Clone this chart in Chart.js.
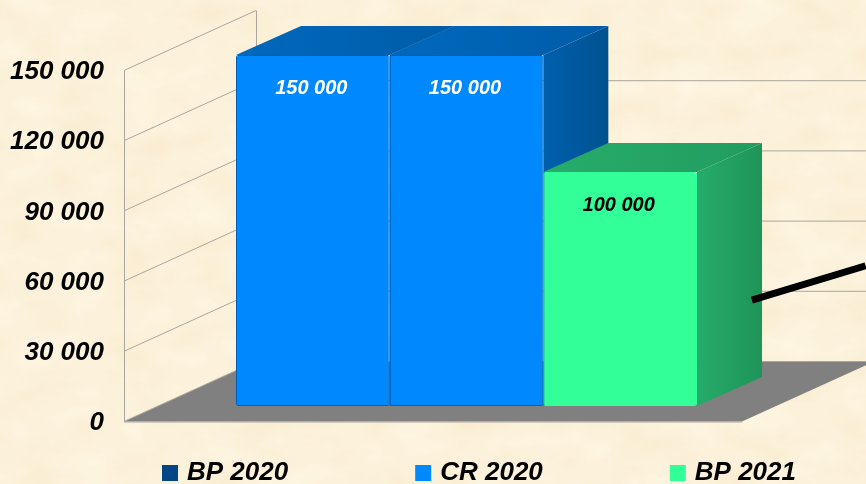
<!DOCTYPE html>
<html><head><meta charset="utf-8">
<script src="https://cdn.jsdelivr.net/npm/chart.js@4"></script>
<style>
html,body{margin:0;padding:0;width:866px;height:484px;overflow:hidden;background-color:#fcf1da}
#bg{position:absolute;left:0;top:0}
#wrap{position:absolute;left:0;top:0;width:866px;height:484px}
</style></head><body>
<svg id="bg" width="866" height="484"><filter id="p" x="0" y="0" width="100%" height="100%" color-interpolation-filters="sRGB">
<feTurbulence type="fractalNoise" baseFrequency="0.018 0.03" numOctaves="4" seed="7"/>
<feColorMatrix type="matrix" values="0 0 0 0.025 0.975  0 0 0 0.05 0.92  0 0 0 0.09 0.81  0 0 0 0 1"/>
</filter><rect width="866" height="484" filter="url(#p)"/></svg>
<div id="wrap"><canvas id="c" width="866" height="484"></canvas></div>
<script>
const categories = ['2020-2021'];
const seriesNames = ['BP 2020', 'CR 2020', 'BP 2021'];
const seriesValues = [150000, 150000, 100000];
const yTicks = [0, 30000, 60000, 90000, 120000, 150000];
const faceColors = ['#0088ff', '#0088ff', '#33ff99'];
const edgeColors = ['#005fb8', '#005fb8', '#33ff99'];
const legendColors = ['#004586', '#0088ff', '#33ff99'];
const labelColors = ['#ffffff', '#ffffff', '#000000'];
const topColors = [['#0069bd', '#005ca8'], ['#0069bd', '#005ca8'], ['#26ad6b', '#229c60']];
const sideColors = [['#0060ae', '#00528f'], ['#0060ae', '#00528f'], ['#25ac6a', '#1f9459']];
const pointerValues = [52500, 67200];
const pointerFractions = [1.016, 1.2];

const FONT = '"Liberation Sans", Arial, sans-serif';
const fmt = v => String(v).replace(/\B(?=(\d{3})+$)/g, ' ');
const wallDx = 132, wallDy = -60;      // depth of the floor
const wallShift = -1.5;                // walls sit just above the tick label centres
const barShift = [33.5, -17];          // bars stand part way into the floor
const barDepth = [65, -29];

const scene = {
  id: 'scene',
  afterLayout(chart) {
    // spread the legend items across the bottom like the reference
    const lg = chart.legend, o = lg.options;
    const labels = Object.create(o.labels);
    Object.defineProperty(labels, 'padding', {value: 131});
    const opts = Object.create(o);
    Object.defineProperty(opts, 'labels', {value: labels});
    lg.options = opts;
    lg.left = 35; lg.right = 3000; lg.top = 460 - 131; lg.bottom = 484;
  },
  beforeDatasetsDraw(chart) {
    const {ctx, scales: {x, y}} = chart;
    const L = x.left, R = x.right, B = y.getPixelForValue(0) + wallShift;
    ctx.save();
    // floor
    ctx.fillStyle = '#808080';
    ctx.beginPath();
    ctx.moveTo(L, B); ctx.lineTo(L + wallDx, B + wallDy);
    ctx.lineTo(R + wallDx, B + wallDy); ctx.lineTo(R, B); ctx.closePath(); ctx.fill();
    // walls and grid
    ctx.strokeStyle = '#aaa69c'; ctx.lineWidth = 1;
    const T = y.getPixelForValue(yTicks[yTicks.length - 1]) + wallShift;
    ctx.beginPath();
    ctx.moveTo(L + .5, B); ctx.lineTo(L + .5, T);
    ctx.moveTo(L + wallDx + .5, B + wallDy); ctx.lineTo(L + wallDx + .5, T + wallDy);
    yTicks.forEach((v, i) => {
      const p = y.getPixelForValue(v) + wallShift;
      ctx.moveTo(L, p); ctx.lineTo(L + wallDx, p + wallDy);
      if (i < yTicks.length - 1) ctx.lineTo(R + wallDx + 10, p + wallDy);
    });
    ctx.moveTo(L, B + .5); ctx.lineTo(R, B + .5);
    ctx.stroke();
    // bar tops and sides
    ctx.translate(barShift[0], barShift[1]);
    seriesValues.forEach((_, i) => {
      const b = chart.getDatasetMeta(i).data[0];
      const x0 = b.x - b.width / 2, x1 = b.x + b.width / 2, t = b.y, bt = b.base;
      const [dx, dy] = barDepth;
      let g = ctx.createLinearGradient(x1, 0, x1 + dx, 0);
      g.addColorStop(0, sideColors[i][0]); g.addColorStop(1, sideColors[i][1]);
      ctx.fillStyle = g;
      ctx.beginPath();
      ctx.moveTo(x1, t); ctx.lineTo(x1 + dx, t + dy); ctx.lineTo(x1 + dx, bt + dy); ctx.lineTo(x1, bt);
      ctx.closePath(); ctx.fill();
      g = ctx.createLinearGradient(x0, 0, x1 + dx, 0);
      g.addColorStop(0, topColors[i][0]); g.addColorStop(1, topColors[i][1]);
      ctx.fillStyle = g;
      ctx.beginPath();
      ctx.moveTo(x0, t); ctx.lineTo(x0 + dx, t + dy); ctx.lineTo(x1 + dx, t + dy); ctx.lineTo(x1, t);
      ctx.closePath(); ctx.fill();
    });
    ctx.restore();
    ctx.save();
    ctx.translate(barShift[0], barShift[1]);
  },
  afterDatasetsDraw(chart) {
    const {ctx, scales: {x, y}} = chart;
    ctx.textAlign = 'center'; ctx.textBaseline = 'middle';
    ctx.font = 'italic bold 20px ' + FONT;
    seriesValues.forEach((v, i) => {
      const b = chart.getDatasetMeta(i).data[0];
      ctx.fillStyle = labelColors[i];
      ctx.fillText(fmt(v), b.x - 1.5, b.y + 33.5);
    });
    ctx.restore();
    // pointer line running off the right edge
    ctx.save();
    ctx.strokeStyle = '#000'; ctx.lineWidth = 7;
    ctx.beginPath();
    ctx.moveTo(x.getPixelForDecimal(pointerFractions[0]), y.getPixelForValue(pointerValues[0]));
    ctx.lineTo(x.getPixelForDecimal(pointerFractions[1]), y.getPixelForValue(pointerValues[1]));
    ctx.stroke();
    ctx.restore();
  }
};

new Chart(document.getElementById('c'), {
  type: 'bar',
  data: {
    labels: categories,
    datasets: seriesNames.map((name, i) => ({
      label: name,
      data: [seriesValues[i]],
      backgroundColor: faceColors[i],
      borderColor: edgeColors[i],
      borderWidth: 1,
      borderRadius: 2,
      borderSkipped: false,
      clip: false
    }))
  },
  plugins: [scene],
  options: {
    responsive: false,
    animation: false,
    events: [],
    layout: {padding: {left: 0, right: 124, top: 72, bottom: 0}},
    datasets: {bar: {categoryPercentage: 0.746, barPercentage: 1}},
    plugins: {
      title: {display: false},
      tooltip: {enabled: false},
      legend: {
        position: 'bottom',
        align: 'start',
        labels: {
          boxWidth: 8, boxHeight: 8, padding: 9, color: '#000',
          font: {family: FONT, size: 26, weight: 'bold', style: 'italic'},
          generateLabels: () => seriesNames.map((t, i) => ({
            text: t, fillStyle: legendColors[i], strokeStyle: legendColors[i],
            lineWidth: 8, fontColor: '#000', datasetIndex: i, hidden: false
          }))
        }
      }
    },
    scales: {
      x: {
        grid: {display: false}, border: {display: false},
        ticks: {display: false},
        afterFit(s) { s.height = 16; }
      },
      y: {
        min: 0, max: 150000,
        grid: {display: false}, border: {display: false},
        afterBuildTicks(s) { s.ticks = yTicks.map(v => ({value: v})); },
        afterFit(s) { s.width = 124; },
        ticks: {
          padding: 12, color: '#000',
          font: {family: FONT, size: 26, weight: 'bold', style: 'italic'},
          callback: v => fmt(v)
        }
      }
    }
  }
});
</script></body></html>
